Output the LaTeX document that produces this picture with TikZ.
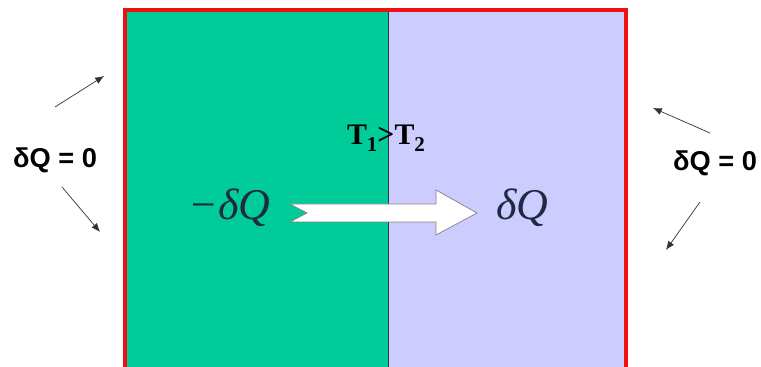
\documentclass[tikz,border=0pt]{standalone}
\usepackage{fontspec}
\setmainfont{Liberation Serif}
\setsansfont{Liberation Sans}
\usetikzlibrary{arrows.meta, positioning}
\definecolor{hot}{HTML}{00CC99}
\definecolor{cold}{HTML}{CCCCFF}
\definecolor{wall}{HTML}{EE1111}
\definecolor{ink}{HTML}{1E2A40}
\newcommand{\subidx}[1]{\raisebox{-0.45ex}{\fontsize{12}{12}\selectfont #1}}

\begin{document}
\begin{tikzpicture}[x=0.02cm, y=-0.02cm,
    adiab/.style={font=\sffamily\bfseries\fontsize{15.5}{17}\selectfont},
    flux/.style={-{Latex[length=5pt,width=4pt]}, thin, black!80},
    heat/.style={ink, font=\itshape\fontsize{25}{27}\selectfont}]
  \useasboundingbox (0,0) rectangle (761,367);
  % the two bodies
  \fill[hot] (125,10) rectangle (388,372);
  \fill[cold] (388,10) rectangle (626,372);
  \draw[black!80, thin] (388,10) -- (388,372);
  % isolating wall
  \draw[wall, line width=2.2pt] (125,372) -- (125,10) -- (626,10) -- (626,372);
  % labels
  \node[adiab] (qleft) at (55,160) {δQ = 0};
  \node[adiab] (qright) at (715,163) {δQ = 0};
  \node[font=\bfseries\fontsize{17}{19}\selectfont, inner sep=0pt, anchor=base] (temps) at (386,145) {T\subidx{1}>T\subidx{2}};
  \node[heat, anchor=base west, inner sep=0pt] (qout) at (188,220) {−δQ};
  \node[heat, anchor=base west, inner sep=0pt] (qin) at (496,220) {δQ};
  % big heat arrow
  \draw[black!50, fill=white]
    (290,204) -- (436,204) -- (436,190) -- (477,213) -- (436,235)
    -- (436,222) -- (290,222) -- (307,213) -- cycle;
  % small arrows at the wall
  \coordinate (lu) at (104,76);
  \coordinate (ld) at (100,232);
  \coordinate (ru) at (653,108);
  \coordinate (rd) at (666,250);
  \draw[flux] ([shift={(0,-53)}]qleft.center) -- (lu);
  \draw[flux] ([shift={(7,27)}]qleft.center) -- (ld);
  \draw[flux] ([shift={(-5,-30)}]qright.center) -- (ru);
  \draw[flux] ([shift={(-15,39)}]qright.center) -- (rd);
\end{tikzpicture}
\end{document}
